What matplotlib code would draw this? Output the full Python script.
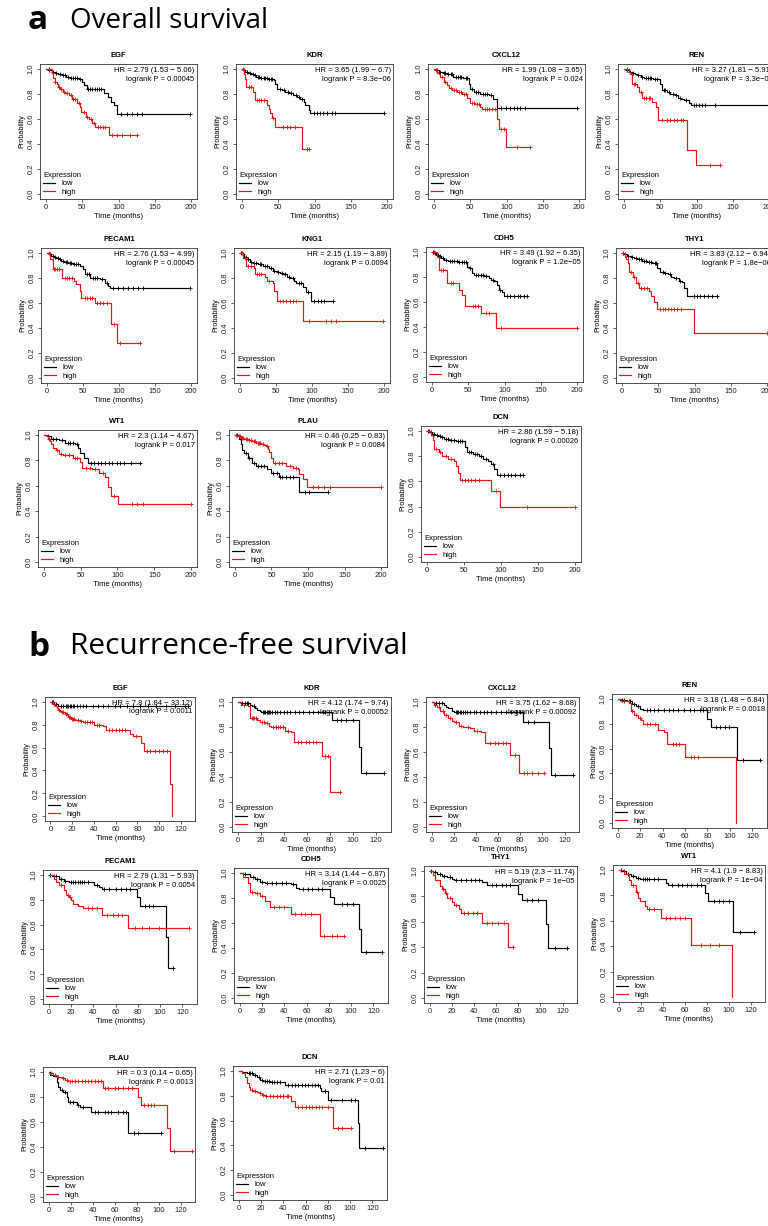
import matplotlib
matplotlib.use("Agg")
import matplotlib.pyplot as plt
from matplotlib.lines import Line2D

plt.rcParams['font.family'] = ['Liberation Sans', 'DejaVu Sans']

# ---------------- Overall survival (a) ----------------
os_genes = ["EGF", "KDR", "CXCL12", "REN", "PECAM1", "KNG1", "CDH5", "THY1", "WT1", "PLAU", "DCN"]
os_hr = ["2.79 (1.53 \u2212 5.06)", "3.65 (1.99 \u2212 6.7)", "1.99 (1.08 \u2212 3.65)", "3.27 (1.81 \u2212 5.91)",
         "2.76 (1.53 \u2212 4.99)", "2.15 (1.19 \u2212 3.89)", "3.49 (1.92 \u2212 6.35)", "3.83 (2.12 \u2212 6.94)",
         "2.3 (1.14 \u2212 4.67)", "0.46 (0.25 \u2212 0.83)", "2.86 (1.59 \u2212 5.18)"]
os_p = ["0.00045", "8.3e\u221206", "0.024", "3.3e\u221205", "0.00045", "0.0094", "1.2e\u221205", "1.8e\u221206",
        "0.017", "0.0084", "0.00026"]

# each curve: (time, survival after drop) steps, censor times
os_egf_low = [(3, .99), (8, .98), (12, .97), (17, .96), (22, .95), (28, .94), (33, .93), (45, .92), (50, .90),
              (53, .87), (56, .84), (80, .81), (86, .78), (90, .74), (94, .71), (98, .64)]
os_egf_low_c = [5, 10, 14, 19, 24, 26, 30, 35, 38, 40, 43, 47, 58, 61, 64, 67, 70, 73, 76, 103, 112, 119, 126, 132, 198]
os_egf_high = [(8, .97), (10, .93), (12, .90), (15, .88), (17, .86), (20, .84), (23, .82), (27, .81), (32, .79),
               (36, .76), (43, .73), (47, .70), (49, .66), (55, .62), (59, .60), (64, .57), (68, .54), (87, .47)]
os_egf_high_c = [4, 13, 18, 21, 25, 29, 34, 38, 40, 45, 52, 57, 62, 66, 72, 75, 78, 82, 91, 98, 105, 116, 125]

os_kdr_low = [(2, .99), (5, .98), (9, .97), (13, .96), (16, .95), (20, .94), (25, .93), (35, .92), (44, .91),
              (46, .88), (48, .84), (55, .83), (60, .82), (65, .81), (71, .79), (76, .78), (80, .76), (85, .74),
              (87, .71), (92, .67), (94, .645)]
os_kdr_low_c = [3, 7, 11, 15, 18, 22, 24, 27, 30, 32, 34, 37, 40, 42, 52, 58, 63, 68, 74, 78, 83, 99, 103, 108,
                112, 117, 124, 128, 195]
os_kdr_high = [(3, .96), (5, .92), (6, .86), (15, .82), (18, .75), (34, .71), (37, .68), (39, .65), (41, .61),
               (46, .54), (83, .36)]
os_kdr_high_c = [2, 10, 12, 21, 24, 27, 30, 43, 57, 62, 66, 73, 89, 92]

os_cxcl12_low = [(3, .99), (7, .98), (12, .97), (18, .96), (27, .94), (40, .93), (48, .88), (50, .84), (55, .82),
                 (64, .80), (76, .79), (82, .76), (87, .69)]
os_cxcl12_low_c = [5, 9, 14, 16, 20, 23, 25, 30, 33, 36, 38, 44, 46, 52, 58, 61, 67, 70, 73, 79, 92, 99, 105,
                   110, 115, 119, 126, 197]
os_cxcl12_high = [(2, .99), (5, .97), (7, .96), (9, .94), (14, .90), (18, .87), (21, .85), (25, .83), (32, .82),
                  (39, .80), (46, .77), (50, .73), (57, .72), (64, .70), (66, .68), (87, .60), (90, .52), (99, .38)]
os_cxcl12_high_c = [3, 11, 16, 23, 28, 30, 35, 37, 42, 44, 53, 55, 60, 62, 70, 73, 76, 80, 84, 93, 96, 115, 133]

os_ren_low = [(3, .99), (7, .98), (11, .97), (15, .96), (18, .95), (23, .94), (28, .93), (40, .92), (50, .88),
              (53, .83), (60, .82), (64, .80), (70, .79), (75, .77), (79, .76), (83, .75), (89, .73), (92, .71)]
os_ren_low_c = [5, 9, 13, 20, 25, 30, 33, 36, 38, 43, 46, 55, 57, 62, 67, 72, 77, 86, 96, 99, 103, 108, 112, 126, 199]
os_ren_high = [(7, .98), (9, .96), (11, .88), (18, .86), (21, .82), (25, .77), (39, .74), (44, .70), (47, .59),
               (87, .35), (99, .23)]
os_ren_high_c = [5, 14, 16, 23, 28, 31, 34, 36, 53, 60, 64, 69, 73, 78, 82, 119, 133]

os_pecam1_low = [(3, .99), (6, .98), (10, .97), (13, .96), (16, .95), (20, .94), (24, .93), (30, .92), (36, .91),
                 (46, .90), (50, .87), (53, .83), (60, .80), (74, .79), (80, .76), (85, .74), (88, .72)]
os_pecam1_low_c = [4, 8, 12, 15, 18, 22, 26, 28, 32, 34, 38, 40, 43, 56, 58, 64, 67, 70, 77, 83, 92, 99, 106,
                   113, 120, 126, 133, 198]
os_pecam1_high = [(5, .95), (8, .87), (21, .80), (38, .78), (41, .75), (46, .70), (48, .64), (67, .60), (89, .43),
                  (97, .28)]
os_pecam1_high_c = [3, 10, 12, 14, 17, 25, 28, 31, 35, 53, 56, 60, 63, 70, 74, 78, 83, 93, 101, 129]

os_kng1_low = [(3, .99), (6, .97), (9, .95), (14, .93), (18, .92), (25, .91), (32, .90), (41, .88), (46, .86),
               (51, .85), (55, .84), (60, .83), (66, .81), (70, .80), (75, .78), (78, .76), (87, .73), (92, .69),
               (99, .62)]
os_kng1_low_c = [2, 5, 8, 11, 16, 20, 22, 28, 30, 35, 38, 43, 48, 53, 58, 63, 68, 73, 82, 85, 94, 103, 108, 113,
                 117, 129]
os_kng1_high = [(5, .96), (9, .90), (19, .88), (21, .83), (35, .81), (37, .78), (46, .76), (48, .70), (51, .62),
                (87, .46)]
os_kng1_high_c = [3, 7, 12, 15, 24, 27, 30, 41, 56, 60, 64, 69, 74, 78, 96, 120, 126, 133, 198]

os_cdh5_low = [(3, .99), (6, .98), (9, .97), (13, .95), (17, .94), (22, .93), (35, .92), (49, .88), (51, .87),
               (55, .83), (58, .82), (72, .81), (78, .79), (82, .78), (86, .77), (89, .74), (92, .70), (96, .68),
               (99, .65)]
os_cdh5_low_c = [2, 5, 8, 11, 15, 19, 25, 28, 31, 34, 38, 41, 44, 47, 53, 61, 64, 67, 70, 75, 84, 94, 104, 108,
                 113, 118, 122, 127, 131]
os_cdh5_high = [(7, .96), (10, .86), (21, .75), (37, .70), (42, .66), (46, .57), (67, .51), (88, .39)]
os_cdh5_high_c = [3, 12, 15, 26, 29, 56, 60, 64, 74, 78, 95, 200]

os_thy1_low = [(3, .99), (7, .98), (12, .97), (17, .96), (21, .95), (28, .94), (35, .93), (42, .92), (49, .88),
               (53, .85), (58, .84), (63, .83), (68, .81), (72, .80), (78, .78), (83, .77), (86, .72), (90, .66)]
os_thy1_low_c = [2, 5, 9, 14, 19, 24, 26, 31, 33, 38, 40, 45, 47, 56, 60, 66, 75, 80, 99, 104, 108, 113, 118,
                 124, 131]
os_thy1_high = [(4, .97), (6, .95), (8, .92), (10, .85), (15, .81), (19, .76), (24, .72), (38, .70), (40, .66),
                (44, .61), (49, .55), (99, .36)]
os_thy1_high_c = [2, 12, 17, 22, 27, 31, 35, 53, 57, 60, 63, 67, 72, 76, 81, 200]

os_wt1_low = [(4, .99), (10, .97), (21, .96), (29, .94), (42, .93), (47, .90), (49, .86), (54, .82), (60, .78)]
os_wt1_low_c = [6, 13, 16, 24, 33, 36, 39, 45, 64, 68, 73, 78, 83, 88, 93, 99, 104, 109, 119, 130]
os_wt1_high = [(3, .99), (5, .97), (8, .95), (10, .93), (13, .90), (16, .88), (21, .85), (26, .84), (39, .82),
               (49, .79), (52, .74), (65, .73), (75, .70), (83, .67), (87, .59), (91, .52), (101, .46)]
os_wt1_high_c = [7, 18, 23, 29, 34, 42, 45, 57, 62, 70, 80, 95, 120, 127, 134, 200]

os_plau_low = [(5, .97), (8, .93), (10, .88), (13, .86), (18, .82), (23, .78), (29, .76), (44, .73), (49, .70),
               (60, .67), (88, .55)]
os_plau_low_c = [3, 15, 20, 26, 31, 36, 40, 52, 57, 62, 65, 70, 75, 80, 96, 101, 127]
os_plau_high = [(3, .99), (8, .98), (13, .97), (18, .96), (24, .95), (29, .94), (36, .93), (40, .92), (42, .91),
                (45, .89), (47, .87), (49, .82), (52, .78), (70, .76), (80, .74), (86, .73), (88, .69), (93, .65),
                (99, .59)]
os_plau_high_c = [2, 5, 7, 10, 11, 15, 16, 20, 22, 26, 27, 31, 33, 34, 38, 44, 55, 60, 65, 75, 84, 107, 114, 122,
                  130, 200]

os_dcn_low = [(3, .99), (7, .98), (11, .97), (15, .96), (19, .95), (23, .94), (30, .93), (39, .92), (52, .87),
              (54, .83), (62, .82), (70, .80), (76, .78), (83, .76), (86, .74), (91, .70), (94, .65)]
os_dcn_low_c = [2, 5, 9, 13, 17, 21, 26, 28, 33, 36, 42, 45, 48, 57, 60, 65, 67, 73, 80, 89, 99, 104, 109, 114,
                119, 125, 130]
os_dcn_high = [(5, .97), (8, .93), (10, .86), (16, .83), (21, .80), (29, .78), (36, .76), (39, .72), (42, .67),
               (44, .61), (86, .52), (99, .40)]
os_dcn_high_c = [3, 12, 18, 26, 32, 47, 52, 55, 60, 65, 70, 93, 135, 200]

# ---------------- Recurrence-free survival (b) ----------------
rfs_genes = ["EGF", "KDR", "CXCL12", "REN", "PECAM1", "CDH5", "THY1", "WT1", "PLAU", "DCN"]
rfs_hr = ["7.8 (1.84 \u2212 33.12)", "4.12 (1.74 \u2212 9.74)", "3.75 (1.62 \u2212 8.68)", "3.18 (1.48 \u2212 6.84)",
          "2.79 (1.31 \u2212 5.93)", "3.14 (1.44 \u2212 6.87)", "5.19 (2.3 \u2212 11.74)", "4.1 (1.9 \u2212 8.83)",
          "0.3 (0.14 \u2212 0.65)", "2.71 (1.23 \u2212 6)"]
rfs_p = ["0.0011", "0.00052", "0.00092", "0.0018", "0.0054", "0.0025", "1e\u221205", "1e\u221204", "0.0013", "0.01"]

rfs_egf_low = [(3, .98), (7, .965)]
rfs_egf_low_c = [1, 2, 5, 10, 12, 14, 15, 16, 18, 19, 21, 22, 24, 27, 30, 33, 39, 44, 48, 53, 59, 64, 70, 76, 82,
                 90, 97, 106, 115, 124, 127]
rfs_egf_high = [(2, .98), (4, .96), (6, .94), (7, .93), (9, .92), (10, .91), (13, .89), (16, .87), (19, .85),
                (23, .84), (27, .83), (30, .82), (40, .80), (48, .79), (51, .75), (73, .72), (76, .70), (83, .64),
                (86, .57), (110, .28), (111.5, 0.0)]
rfs_egf_high_c = [3, 8, 11, 12, 14, 15, 17, 18, 20, 21, 22, 25, 28, 32, 34, 36, 38, 43, 45, 54, 57, 60, 63, 66,
                  69, 79, 89, 92, 96, 100, 104, 107]

rfs_kdr_low = [(3, .99), (11, .98), (12, .97), (15, .95), (17, .94), (19, .93), (20, .92), (82, .86), (105, .64),
               (107, .43)]
rfs_kdr_low_c = [4, 6, 8, 9, 14, 22, 23, 24, 25, 26, 27, 28, 30, 32, 34, 37, 40, 43, 45, 50, 53, 57, 62, 65, 70,
                 74, 76, 86, 90, 94, 100, 111, 127]
rfs_kdr_high = [(3, .98), (9, .97), (10.5, .87), (17, .86), (19, .84), (24, .83), (27, .81), (29, .80), (41, .77),
                (46, .76), (49, .68), (73, .57), (80, .28)]
rfs_kdr_high_c = [5, 12, 13, 14, 16, 21, 23, 25, 31, 33, 35, 37, 39, 44, 52, 55, 59, 62, 65, 68, 76, 78, 89]

rfs_cxcl12_low = [(2, .99), (11, .98), (13, .96), (15, .95), (18, .93), (20, .92), (82.5, .84), (105.5, .63),
                  (107.5, .42)]
rfs_cxcl12_low_c = [4, 7, 9, 22, 23, 24, 26, 27, 28, 30, 32, 35, 38, 40, 44, 47, 50, 54, 58, 63, 67, 72, 76, 80,
                    87, 92, 111, 128]
rfs_cxcl12_high = [(2, .98), (5, .96), (8, .93), (11.5, .90), (15, .87), (18, .85), (20, .84), (25, .81), (28, .80),
                   (35, .79), (38, .77), (44.5, .76), (48, .67), (71, .58), (79, .43)]
rfs_cxcl12_high_c = [3, 7, 10, 13, 17, 22, 27, 33, 41, 53, 57, 60, 64, 67, 75, 83, 86, 91, 96, 101]

rfs_ren_low = [(2, .99), (8, .98), (13, .96), (16, .94), (19.5, .92), (23, .91), (80, .84), (83, .77), (106, .51)]
rfs_ren_low_c = [4, 6, 10, 11, 15, 18, 26, 29, 32, 36, 41, 46, 49, 54, 59, 64, 68, 73, 76, 88, 91, 96, 99, 112, 127]
rfs_ren_high = [(3, .98), (10, .97), (11.5, .90), (14.7, .87), (18, .85), (21, .83), (23, .80), (36, .75),
                (41, .73), (44, .64), (60, .53), (105, 0.0)]
rfs_ren_high_c = [6, 13, 16, 20, 26, 29, 33, 49, 52, 55, 65, 68, 72]

rfs_pecam1_low = [(3, .99), (9, .97), (13.6, .95), (18, .94), (41, .92), (45.5, .90), (47.7, .89), (79.6, .82),
                  (81.7, .75), (105, .50), (107, .25)]
rfs_pecam1_low_c = [1, 5, 7, 11, 15, 20, 22, 24, 26, 28, 30, 32, 35, 43, 50, 54, 60, 65, 69, 73, 86, 90, 94, 111.5]
rfs_pecam1_high = [(5, .97), (7, .94), (9.4, .92), (13.6, .88), (15.7, .84), (18, .82), (20, .80), (22, .77),
                   (26.4, .75), (30.6, .73), (47.7, .68), (71, .57)]
rfs_pecam1_high_c = [11, 17, 19, 35, 39, 43, 52, 58, 62, 66, 77, 84, 90, 99, 126]

rfs_cdh5_low = [(3, .99), (9.5, .97), (14, .95), (18, .93), (22.5, .92), (46, .91), (50.5, .88), (53, .87),
                (81, .81), (85, .75), (107, .55), (109, .37)]
rfs_cdh5_low_c = [5, 12, 16, 20, 25, 29, 33, 38, 42, 48, 57, 61, 65, 70, 74, 92, 96, 102, 113, 128]
rfs_cdh5_high = [(3, .97), (7.4, .92), (9.5, .85), (14, .84), (18, .82), (22.5, .78), (27, .73), (46, .67),
                 (72, .50)]
rfs_cdh5_high_c = [11, 16, 20, 31, 35, 40, 50, 55, 59, 64, 76, 83, 87, 94]

rfs_thy1_low = [(3, .99), (7, .98), (11.5, .96), (15.7, .95), (20, .94), (22, .93), (47.7, .91), (52, .89),
                (79.6, .82), (83.8, .77), (105, .58), (107, .39)]
rfs_thy1_low_c = [1, 5, 9, 13, 18, 24, 28, 33, 37, 41, 45, 56, 60, 65, 69, 73, 88, 92, 98, 113, 124]
rfs_thy1_high = [(3, .97), (5, .93), (9.4, .88), (11.5, .86), (13.6, .83), (15.7, .79), (20, .76), (22, .73),
                 (26.4, .70), (28.5, .67), (47.7, .59), (71, .40)]
rfs_thy1_high_c = [12.5, 14.5, 18, 24, 31, 35, 39, 43, 52, 56, 62, 67, 75]

rfs_wt1_low = [(3, .99), (7, .97), (11.4, .95), (15.6, .94), (19.8, .93), (43, .90), (45, .88), (78.7, .82),
               (80.8, .76), (104, .51)]
rfs_wt1_low_c = [2, 5, 9, 13, 18, 22, 24, 26, 28, 32, 36, 49, 54, 58, 62, 66, 71, 75, 87, 91, 95, 100, 110, 123]
rfs_wt1_high = [(5, .97), (9.3, .92), (11.4, .88), (15.6, .83), (17.7, .78), (19.8, .76), (24, .72), (26, .69),
                (38.7, .62), (66, .41), (102.7, 0.0)]
rfs_wt1_high_c = [13.5, 17, 28, 32, 43, 47, 51, 56, 60, 75, 83, 91]

rfs_plau_low = [(1.5, .98), (4.5, .97), (7.5, .92), (9, .88), (10.5, .86), (13.5, .84), (16.5, .80), (18, .76),
                (25.5, .74), (28.5, .72), (39, .68), (72, .51)]
rfs_plau_low_c = [12, 15, 19.5, 22.5, 27, 31.5, 42, 45, 51, 54, 57, 63, 67.5, 70.5, 78, 81, 102]
rfs_plau_high = [(0.6, .99), (4.5, .98), (7.5, .96), (12, .95), (15, .94), (18, .93), (49.5, .87), (81, .80),
                 (84, .74), (108, .55), (110, .37)]
rfs_plau_high_c = [2.4, 6, 9, 13.5, 16.5, 19.5, 21, 24, 27, 30, 33, 36, 39, 42, 45, 48, 51, 54, 60, 63, 68, 72,
                   76, 87, 90, 93, 96, 114, 130]

rfs_dcn_low = [(3, .99), (7.4, .98), (13.3, .97), (16.3, .95), (19.3, .93), (22, .92), (28, .91), (41.5, .89),
               (72.6, .86), (74, .84), (80, .77), (106.7, .58), (108, .38)]
rfs_dcn_low_c = [9, 10.4, 12, 15, 18, 21, 24, 25.5, 27, 30, 31.5, 34.5, 37.5, 44.5, 47.5, 50.5, 53.5, 56.5, 59.5,
                 62.5, 65.5, 68.5, 71, 77, 83, 93, 101, 104, 113, 129]
rfs_dcn_high = [(3, .98), (6, .95), (7.4, .90), (9, .87), (10.4, .85), (13.3, .84), (16.3, .83), (18, .82),
                (20.7, .81), (23.7, .80), (47.4, .76), (50.4, .71), (84.4, .54)]
rfs_dcn_high_c = [12, 15, 19, 22, 25, 28, 31, 34, 37, 40, 43, 44.5, 53, 57, 60, 63, 66, 69, 72, 75, 80, 89, 93, 101]

os_curves = [
    (os_egf_low, os_egf_low_c, os_egf_high, os_egf_high_c),
    (os_kdr_low, os_kdr_low_c, os_kdr_high, os_kdr_high_c),
    (os_cxcl12_low, os_cxcl12_low_c, os_cxcl12_high, os_cxcl12_high_c),
    (os_ren_low, os_ren_low_c, os_ren_high, os_ren_high_c),
    (os_pecam1_low, os_pecam1_low_c, os_pecam1_high, os_pecam1_high_c),
    (os_kng1_low, os_kng1_low_c, os_kng1_high, os_kng1_high_c),
    (os_cdh5_low, os_cdh5_low_c, os_cdh5_high, os_cdh5_high_c),
    (os_thy1_low, os_thy1_low_c, os_thy1_high, os_thy1_high_c),
    (os_wt1_low, os_wt1_low_c, os_wt1_high, os_wt1_high_c),
    (os_plau_low, os_plau_low_c, os_plau_high, os_plau_high_c),
    (os_dcn_low, os_dcn_low_c, os_dcn_high, os_dcn_high_c),
]
rfs_curves = [
    (rfs_egf_low, rfs_egf_low_c, rfs_egf_high, rfs_egf_high_c),
    (rfs_kdr_low, rfs_kdr_low_c, rfs_kdr_high, rfs_kdr_high_c),
    (rfs_cxcl12_low, rfs_cxcl12_low_c, rfs_cxcl12_high, rfs_cxcl12_high_c),
    (rfs_ren_low, rfs_ren_low_c, rfs_ren_high, rfs_ren_high_c),
    (rfs_pecam1_low, rfs_pecam1_low_c, rfs_pecam1_high, rfs_pecam1_high_c),
    (rfs_cdh5_low, rfs_cdh5_low_c, rfs_cdh5_high, rfs_cdh5_high_c),
    (rfs_thy1_low, rfs_thy1_low_c, rfs_thy1_high, rfs_thy1_high_c),
    (rfs_wt1_low, rfs_wt1_low_c, rfs_wt1_high, rfs_wt1_high_c),
    (rfs_plau_low, rfs_plau_low_c, rfs_plau_high, rfs_plau_high_c),
    (rfs_dcn_low, rfs_dcn_low_c, rfs_dcn_high, rfs_dcn_high_c),
]

# panel boxes in pixels: left, right, top, bottom
os_boxes = [(40, 197, 64, 199), (236, 393, 64, 199), (428, 585, 64, 199), (618, 775, 64, 199),
            (41, 197, 248, 383), (234, 390, 248, 383), (426, 583, 247, 382), (616, 773, 248, 383),
            (38, 197, 430, 567), (229, 387, 430, 567), (421, 581, 426, 562)]
rfs_boxes = [(45, 195, 697, 821), (232, 391, 697, 832), (426, 579, 697, 832), (612, 767, 694, 828),
             (43, 197, 870, 1004), (234, 388, 868, 1003), (424, 577, 866, 1003), (613, 765, 865, 1002),
             (43, 195, 1067, 1202), (233, 387, 1066, 1200)]

W, H = 768, 1226
fig = plt.figure(figsize=(W / 100, H / 100), dpi=100)
FS = 5.5


def surv_at(steps, t):
    s = 1.0
    for tt, ss in steps:
        if tt <= t:
            s = ss
    return s


def km(ax, steps, cens, color):
    end = max([steps[-1][0]] + list(cens))
    xs = [0] + [t for t, _ in steps] + [end]
    ys = [1.0] + [s for _, s in steps] + [steps[-1][1]]
    ax.step(xs, ys, where='post', color=color, lw=0.85)
    ax.plot(cens, [surv_at(steps, c) for c in cens], ls='none', marker='+',
            color=color, ms=3.5, mew=0.65)


def panel(box, gene, curves, hr, p, xlim, xticks):
    x0, x1, yt, yb = box
    ax = fig.add_axes([x0 / W, 1 - yb / H, (x1 - x0) / W, (yb - yt) / H])
    low, low_c, high, high_c = curves
    km(ax, low, low_c, 'black')
    km(ax, high, high_c, '#ee1111')
    ax.set_xlim(*xlim)
    ax.set_ylim(-0.04, 1.04)
    ax.set_xticks(xticks)
    ax.set_xticklabels([str(t) for t in xticks], fontsize=FS)
    yt_vals = [0, 0.2, 0.4, 0.6, 0.8, 1.0]
    ax.set_yticks(yt_vals)
    ax.set_yticklabels(["%.1f" % v for v in yt_vals], fontsize=FS, rotation=90, va='center')
    ax.tick_params(length=2.2, width=0.5, pad=1.5, colors='#222222')
    for sp in ax.spines.values():
        sp.set_linewidth(0.6)
        sp.set_color('#333333')
    ax.set_xlabel("Time (months)", fontsize=FS, labelpad=1.5)
    ax.set_ylabel("Probability", fontsize=FS - 0.3, labelpad=2)
    ax.set_title(gene, fontsize=FS, fontweight='bold', pad=5)
    ax.text(0.985, 0.975, "HR = %s\nlogrank P = %s" % (hr, p), transform=ax.transAxes,
            ha='right', va='top', fontsize=FS, multialignment='right', linespacing=1.25)
    handles = [Line2D([], [], color='black', lw=0.85), Line2D([], [], color='#ee1111', lw=0.85)]
    ax.legend(handles, ["low", "high"], title="Expression", loc='lower left', frameon=False,
              fontsize=FS, title_fontsize=FS, handlelength=1.6, handletextpad=0.8,
              labelspacing=0.15, borderaxespad=0.2, borderpad=0.2, alignment='left')
    return ax


for i, gene in enumerate(os_genes):
    panel(os_boxes[i], gene, os_curves[i], os_hr[i], os_p[i], (-8, 208), [0, 50, 100, 150, 200])

for i, gene in enumerate(rfs_genes):
    panel(rfs_boxes[i], gene, rfs_curves[i], rfs_hr[i], rfs_p[i], (-5, 133), [0, 20, 40, 60, 80, 100, 120])

# section headers
fig.text(28 / W, 1 - 29 / H, "a", fontsize=24, fontweight='bold', family='Open Sans')
fig.text(70 / W, 1 - 28 / H, "Overall survival", fontsize=20, family='Open Sans')
fig.text(28 / W, 1 - 656 / H, "b", fontsize=24, fontweight='bold', family='Open Sans')
fig.text(70 / W, 1 - 654 / H, "Recurrence-free survival", fontsize=21.5, family='Open Sans')

fig.savefig("out.png", dpi=100, facecolor='white')
